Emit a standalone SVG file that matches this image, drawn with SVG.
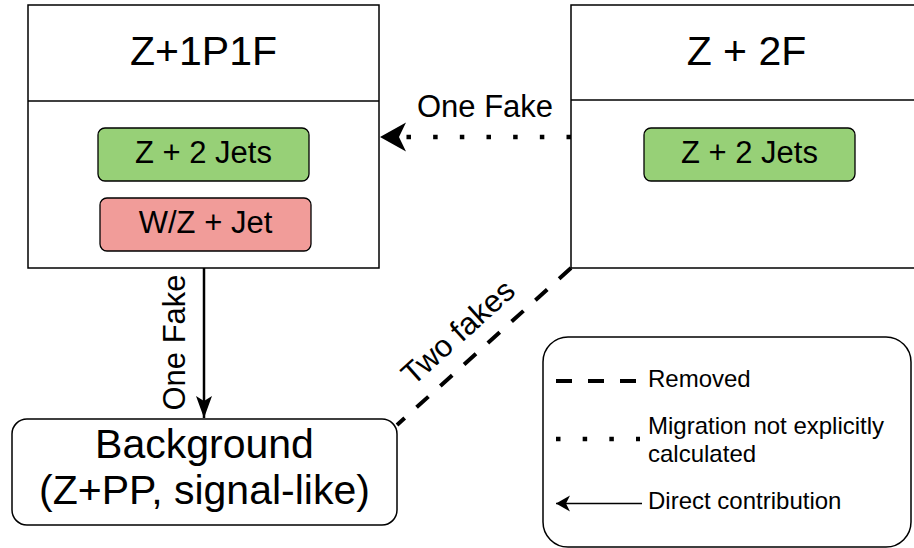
<svg xmlns="http://www.w3.org/2000/svg" width="914" height="548" viewBox="0 0 914 548">
<style>
text{font-family:"Liberation Sans",Arial,sans-serif;fill:#000}
.box{fill:#fff;stroke:#000;stroke-width:1.5}
.div{stroke:#000;stroke-width:1.5}
.green{fill:#97D077;stroke:#000;stroke-width:1.3}
.red{fill:#F19C99;stroke:#000;stroke-width:1.3}
.title{font-size:41px;text-anchor:middle}
.sub{font-size:31px;text-anchor:middle}
.lbl{font-size:31px;text-anchor:middle}
.leg{font-size:24px}
.dot{fill:none;stroke:#000;stroke-width:4.5;stroke-dasharray:4.5 22.17}
.dash{fill:none;stroke:#000;stroke-width:4;stroke-dasharray:16 16}
.solid{fill:none;stroke:#000}
</style>
<defs>
<marker id="bigArrow" markerUnits="userSpaceOnUse" orient="auto" refX="0" refY="0" markerWidth="30" markerHeight="30" overflow="visible">
<path d="M26,0 L0,-14.5 L7,0 L0,14.5 Z" fill="#000"/>
</marker>
<marker id="midArrow" markerUnits="userSpaceOnUse" orient="auto" refX="22" refY="0" markerWidth="30" markerHeight="30" overflow="visible">
<path d="M22,0 L0,-8 L5,0 L0,8 Z" fill="#000"/>
</marker>
<marker id="smallArrow" markerUnits="userSpaceOnUse" orient="auto" refX="14" refY="0" markerWidth="20" markerHeight="20" overflow="visible">
<path d="M14,0 L0,-8 L4,0 L0,8 Z" fill="#000"/>
</marker>
</defs>

<g id="connectors">
<path class="dot" d="M571,137 L406,137" marker-end="url(#bigArrow)"/>
<text class="lbl" x="485" y="117">One Fake</text>
<path class="solid" stroke-width="2.5" d="M204,268 L204,418" marker-end="url(#midArrow)"/>
<text class="lbl" transform="translate(185,342.5) rotate(-90)">One Fake</text>
<path class="dash" d="M571,268 L397,425"/>
<text class="lbl" transform="translate(465,340) rotate(-41.9)">Two fakes</text>
</g>

<g id="node-z1p1f">
<rect class="box" x="28" y="5" width="351" height="263"/>
<line class="div" x1="28" y1="101" x2="379" y2="101"/>
<text class="title" x="203.5" y="65">Z+1P1F</text>
<rect class="green" x="98" y="128" width="211" height="53" rx="7"/>
<text class="sub" x="203.5" y="163">Z + 2 Jets</text>
<rect class="red" x="100" y="198" width="211" height="53" rx="7"/>
<text class="sub" x="205.5" y="233">W/Z + Jet</text>
</g>

<g id="node-z2f">
<rect class="box" x="571" y="5" width="351" height="263"/>
<line class="div" x1="571" y1="100" x2="922" y2="100"/>
<text class="title" x="746.5" y="65">Z + 2F</text>
<rect class="green" x="644" y="128" width="211" height="53" rx="7"/>
<text class="sub" x="749.5" y="163">Z + 2 Jets</text>
</g>

<g id="node-background">
<rect class="box" x="12" y="419" width="385" height="106" rx="15"/>
<text class="title" x="204.5" y="458">Background</text>
<text class="title" x="204.5" y="504">(Z+PP, signal-like)</text>
</g>

<g id="legend">
<rect class="box" x="543" y="337" width="368" height="210" rx="25"/>
<path class="dash" d="M556,381 L636,381"/>
<text class="leg" x="648" y="387">Removed</text>
<path class="dot" d="M556,439 L640,439"/>
<text class="leg" x="648" y="434">Migration not explicitly</text>
<text class="leg" x="648" y="462">calculated</text>
<path class="solid" stroke-width="1.3" d="M642,503.5 L556,503.5" marker-end="url(#smallArrow)"/>
<text class="leg" x="648" y="509">Direct contribution</text>
</g>
</svg>
